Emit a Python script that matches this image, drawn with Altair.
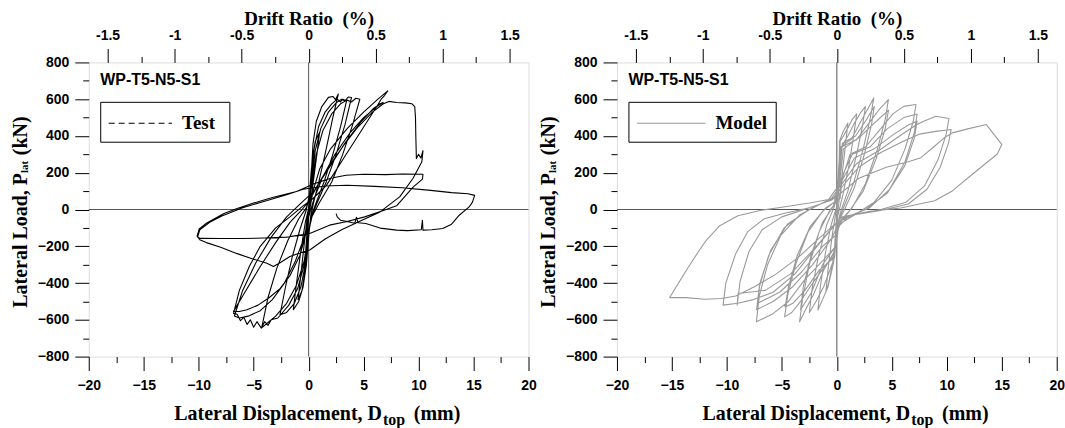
import altair as alt
import pandas as pd

# ---------------- data ----------------
test_disp = [0,
             0.1, 0.25, 0.45, 0.3, 0.1, 0,
             -0.1, -0.25, -0.35, -0.2, -0.05, 0.05,
             0.2, 0.35, 0.6, 1.0, 0.75, 0.4, 0.15, 0,
             -0.15, -0.3, -0.6, -0.96, -0.7, -0.35, -0.1, 0.1,
             0.25, 0.4, 0.7, 1.2, 1.8, 2.2, 2.45, 2.7, 2.2, 1.6, 1.0, 0.5, 0.2,
             0, -0.2, -0.5, -0.9, -1.39, -1.1, -0.7, -0.3, 0.1,
             0.3, 0.5, 0.9, 1.5, 2.1, 2.6, 2.9, 3.1, 3.45, 2.9, 2.2, 1.4, 0.7, 0.2,
             0, -0.25, -0.7, -1.3, -2.0, -2.6, -2.1, -1.5, -0.8, -0.2,
             0.3, 0.6, 1.1, 1.8, 2.5, 3.0, 3.3, 3.6, 3.9, 3.3, 2.5, 1.6, 0.8, 0.2,
             -0.1, -0.4, -1.0, -1.8, -2.8, -3.4, -3.7, -4.0, -4.26, -3.7, -2.9, -1.9, -0.9, -0.2,
             0.3, 0.7, 1.3, 2.1, 2.9, 3.5, 3.9, 4.3, 4.66, 4.0, 3.1, 2.1, 1.0, 0.3,
             0, -0.4, -1.1, -2.0, -3.0, -3.8, -4.3, -4.7, -5.0, -5.3, -5.6, -5.9, -6.2, -6.5, -6.83, -6.3, -5.4, -4.4, -3.0, -1.7, -0.5,
             0.4, 1.6, 3.2, 4.7, 6.2, 6.6, 6.9, 7.2, 6.3, 5.0, 3.5, 2.0, 1.0, 0.4, 0.1,
             -0.2, -0.8, -1.7, -2.6, -3.6, -4.6, -5.6, -6.3, -6.83, -6.0, -4.4, -3.0, -1.7, -0.6, 0.1,
             0.8, 2.0, 3.4, 4.8, 5.9, 6.5, 6.78, 6.2, 5.0, 3.8, 2.4, 1.3, 0.5, 0,
             -0.4, -1.2, -2.2, -3.3, -4.4, -5.5, -6.3, -6.75, -6.0, -4.8, -3.4, -2.0, -0.6, 0.5,
             1.8, 3.2, 4.5, 5.8, 6.8, 7.3, 8.0, 8.8, 9.4, 9.65, 9.72, 9.75, 9.8, 10.0, 10.2, 10.4, 10.3,
             9.5, 8.3, 6.5, 4.8, 3.0, 1.5, 0.1, -1.0, -1.7, -2.6, -3.2, -3.8, -5.0, -6.5, -8.0, -9.3, -9.86, -10.15,
             -9.95, -9.3, -8.4, -7.7, -6.5, -5.0, -3.3, -1.1, 0.5, 2.0, 3.4, 5.0, 7.0, 8.5, 10.4, 10.35,
             9.5, 8.0, 6.8, 5.1, 3.5, 1.9, 0.1, -2.0, -4.0, -6.0, -8.0, -9.86, -10.1,
             -9.9, -9.0, -7.9, -6.0, -4.0, -2.0, -0.5, 1.5, 3.5, 6.0, 8.5, 11.1, 13.0, 14.5, 15.1, 14.9, 14.6, 13.7, 13.0, 12.2, 11.2, 10.4, 10.35, 10.25, 9.0, 8.0, 6.5, 5.2, 4.5, 4.35, 4.2, 3.5, 2.9, 2.6, 2.5]
test_load = [0,
             100, 220, 300, 180, 40, -20,
             -120, -230, -300, -170, -40, 20,
             150, 280, 370, 420, 300, 140, 20, -40,
             -180, -320, -440, -491, -350, -160, -30, 40,
             200, 360, 480, 560, 610, 615, 598, 628, 500, 330, 170, 50, -30,
             -150, -300, -420, -500, -545, -400, -220, -70, 30,
             180, 330, 450, 530, 575, 600, 585, 600, 591, 450, 300, 150, 40, -40,
             -130, -280, -420, -510, -560, -572, -420, -260, -110, 0,
             150, 320, 440, 530, 580, 600, 590, 612, 609, 460, 300, 150, 40, -50,
             -150, -300, -430, -520, -590, -600, -630, -610, -640, -480, -320, -170, -50, 10,
             130, 300, 430, 520, 575, 595, 585, 605, 600, 460, 300, 150, 40, -40,
             -120, -280, -410, -510, -580, -620, -645, -610, -640, -600, -625, -585, -605, -570, -565, -440, -310, -200, -100, -40, 20,
             60, 130, 280, 420, 560, 600, 620, 645, 600, 530, 440, 330, 220, 100, 0,
             -120, -250, -360, -430, -480, -520, -545, -555, -554, -470, -310, -180, -70, 0, 50,
             130, 240, 370, 480, 550, 575, 582, 560, 500, 420, 300, 180, 60, -40,
             -150, -280, -400, -490, -550, -580, -590, -579, -440, -290, -150, -40, 40, 100,
             230, 350, 450, 530, 575, 588, 582, 580, 575, 560, 500, 400, 277, 300, 280, 320, 260,
             170, 70, -13, -60, -110, -160, -220, -240, -256, -290, -310, -292, -270, -240, -205, -180, -166, -145,
             -105, -75, -45, -22, 5, 35, 65, 98, 140, 170, 186, 192, 190, 193, 192, 165,
             122, 20, -5, -40, -65, -85, -130, -150, -155, -158, -158, -157, -150,
             -110, -70, -35, 10, 45, 80, 110, 128, 132, 126, 118, 104, 92, 86, 77, 40, 14, -31, -80, -103, -110, -112, -58, -110, -115, -112, -101, -76, -72, -42, -75, -65, -58, -40, -22]

model_disp = [0, 0.1, 0.2, 0.25, 0.2, 0.08, -0.05, -0.15, -0.28, -0.18, -0.05, 0.05,
              0.2, 0.24, 0.55, 1.0, 0.75, 0.4, 0.15, 0, -0.1, -0.4, -0.75, -1.0, -0.75, -0.4, -0.1, 0.1,
              0.2, 0.3, 0.6, 1.0, 1.4, 1.81, 1.55, 1.1, 0.55, 0.1, -0.05, -0.3, -0.8, -1.3, -1.72, -1.5, -1.05, -0.5, 0,
              0.15, 0.3, 1.0, 1.6, 2.2, 2.6, 2.35, 1.8, 1.0, 0.3, 0, -0.2, -1.2, -1.9, -2.5, -2.25, -1.7, -0.9, -0.2,
              0.1, 0.3, 1.3, 2.1, 2.8, 3.36, 3.05, 2.4, 1.5, 0.6, 0.05, -0.15, -1.2, -2.1, -2.8, -3.39, -3.1, -2.5, -1.6, -0.6, 0.1,
              0.25, 0.5, 1.7, 2.6, 3.4, 3.15, 2.5, 1.6, 0.7, 0.1, -0.1, -1.3, -2.3, -3.3, -3.05, -2.3, -1.3, -0.3,
              0.2, 0.4, 1.8, 2.8, 3.8, 4.69, 4.4, 3.7, 2.6, 1.4, 0.2, 0, -0.25, -1.0, -2.2, -3.3, -4.1, -4.75, -4.45, -3.7, -2.6, -1.3, 0,
              0.3, 0.6, 2.2, 3.4, 4.7, 4.4, 3.6, 2.4, 1.0, 0.1, -0.1, -0.4, -1.6, -2.9, -4.0, -4.7, -4.4, -3.6, -2.4, -1.0, 0.3,
              0.5, 1.2, 2.6, 4.0, 5.1, 6.08, 7.2, 6.95, 6.2, 5.0, 3.4, 1.6, 0.2, -0.1, -1.3, -2.9, -4.4, -5.9, -7.32, -7.05, -6.3, -5.1, -3.4, -1.5, 0,
              0.4, 1.4, 3.0, 4.6, 6.1, 7.3, 7.05, 6.2, 4.8, 3.0, 1.0, -0.1, -0.5, -2.2, -4.0, -5.8, -7.3, -7.05, -6.2, -4.8, -2.8, -0.8,
              0.5, 1.6, 3.4, 5.2, 6.5, 7.3, 7.05, 6.2, 4.6, 2.6, 0.5, -0.1, -1.3, -3.2, -5.2, -7.2, -7.0, -6.0, -4.5, -2.5, -0.5,
              0.6, 1.8, 3.8, 5.7, 7.2, 7.9, 9.0, 10.2, 9.95, 9.2, 8.0, 6.3, 4.0, 1.5, 0, -1.8, -3.8, -5.8, -7.6, -9.0, -10.35, -10.1, -9.2, -8.1, -6.6, -4.75, -2.5, -0.5,
              0.7, 2.0, 4.0, 6.0, 7.5, 9.0, 10.4, 10.15, 9.4, 8.2, 6.5, 4.0, 1.5, 0, -2.0, -4.2, -6.5, -8.98, -9.07, -8.8, -8.0, -6.8, -5.0, -2.5, -0.5,
              0.8, 2.0, 4.5, 6.5, 7.65, 8.8, 9.77, 10.5, 12.0, 13.6, 15.0, 14.6, 12.5, 10.5, 8.9, 5.8, 3.0, 0.5, 0, -1.5, -3.5, -5.5, -7.5, -9.2, -10.5, -12.0, -13.7, -15.2, -14.4, -13.5, -12.6, -11.9, -10.65, -9.0, -7.0, -5.0, -2.5, -0.5, 0.1]
model_load = [0, 120, 250, 330, 230, 80, -60, -180, -280, -180, -60, 40,
              170, 372, 420, 470, 330, 150, 20, -60, -150, -300, -400, -450, -300, -130, -20, 50,
              200, 372, 400, 444, 490, 520, 410, 240, 80, -30, -150, -290, -420, -490, -547, -420, -240, -80, 20,
              160, 330, 400, 470, 530, 560, 460, 300, 100, -20, -120, -260, -420, -500, -560, -430, -260, -80, 20,
              170, 340, 380, 470, 545, 606, 500, 330, 140, 10, -80, -220, -330, -460, -540, -611, -480, -300, -120, 0, 50,
              180, 360, 400, 480, 560, 460, 300, 120, 0, -70, -200, -300, -450, -545, -420, -240, -70, 20,
              160, 340, 380, 460, 540, 598, 490, 330, 140, 10, -70, -160, -250, -300, -400, -500, -560, -584, -460, -290, -120, -10, 50,
              170, 330, 400, 470, 540, 440, 280, 100, -20, -80, -170, -270, -330, -440, -510, -530, -420, -250, -90, 10, 60,
              170, 300, 340, 440, 520, 561, 571, 480, 330, 160, 40, -30, -80, -200, -280, -380, -500, -570, -611, -470, -300, -140, -30, 30, 70,
              170, 300, 340, 440, 500, 519, 420, 260, 110, 10, -40, -110, -160, -300, -420, -500, -545, -420, -250, -100, -10, 50,
              160, 280, 330, 410, 460, 480, 390, 240, 90, 0, -50, -140, -200, -340, -450, -510, -400, -220, -80, 0, 60,
              150, 250, 320, 400, 460, 480, 507, 495, 410, 270, 130, 40, 0, -30, -70, -200, -350, -450, -490, -510, -520, -400, -240, -120, -50, -20, 10, 50,
              140, 230, 310, 370, 410, 425, 435, 360, 230, 110, 30, -5, -30, -70, -210, -350, -440, -457, -520, -390, -230, -110, -40, 10, 50,
              110, 170, 230, 260, 282, 340, 390, 417, 440, 462, 354, 302, 200, 101, 48, 8, -10, -40, -70, -150, -260, -350, -420, -470, -484, -488, -479, -479, -400, -313, -230, -169, -88, -34, -5, 12, 35, 57, 80]

disp_ticks = [-20, -17.5, -15, -12.5, -10, -7.5, -5, -2.5, 0, 2.5, 5, 7.5, 10, 12.5, 15, 17.5, 20]
load_ticks = [-800, -700, -600, -500, -400, -300, -200, -100, 0, 100, 200, 300, 400, 500, 600, 700, 800]
drift_ticks = [-1.5, -1.25, -1, -0.75, -0.5, -0.25, 0, 0.25, 0.5, 0.75, 1, 1.25, 1.5]
drift_limits = [-1.6407, 1.6407]   # +/-20 mm on a 1219 mm wall
disp_limits = [-20, 20]
load_limits = [-800, 800]

specimen = "WP-T5-N5-S1"
NB = "\u00a0"

W, H = 441, 295
SANS = "Liberation Sans"
SERIF = "Liberation Serif"


def axis_common(orient, values, major_test, pad):
    return alt.Axis(
        orient=orient, values=values, grid=False, domain=False, title="",
        tickColor="black", tickWidth=1,
        tickSize={"condition": {"test": major_test, "value": 14}, "value": 6},
        labelExpr=f"({major_test}) ? datum.label : ''",
        labelFont=SANS, labelFontWeight="bold", labelFontSize=14, labelColor="black",
        labelPadding=pad, labelOverlap=False, labelFlush=False,
    )


def panel(disp, load, color, legend_text, legend_dash, box_right, line_right):
    df = pd.DataFrame({"d": disp, "p": load, "i": list(range(len(disp)))})
    x_axis = axis_common("bottom", disp_ticks, "datum.value % 5 === 0", 8)
    y_axis = axis_common("left", load_ticks, "datum.value % 200 === 0", 6)
    xs = alt.Scale(domain=disp_limits, nice=False, zero=False)
    ys = alt.Scale(domain=load_limits, nice=False, zero=False)

    curve = alt.Chart(df).mark_line(color=color, strokeWidth=1.1, strokeJoin="round").encode(
        x=alt.X("d:Q", scale=xs, axis=x_axis),
        y=alt.Y("p:Q", scale=ys, axis=y_axis),
        order="i:Q",
    )
    zero = pd.DataFrame({"d": [0], "p": [0]})
    vline = alt.Chart(zero).mark_rule(color="#555555", strokeWidth=1).encode(
        x=alt.X("d:Q", scale=xs, axis=x_axis))
    hline = alt.Chart(zero).mark_rule(color="#555555", strokeWidth=1).encode(
        y=alt.Y("p:Q", scale=ys, axis=y_axis))

    one = pd.DataFrame({"k": [0]})
    label = alt.Chart(one).mark_text(
        text=specimen, font=SANS, fontWeight="bold", fontSize=16, align="left",
        baseline="middle", color="black").encode(x=alt.value(11.5), y=alt.value(18))
    box = alt.Chart(one).mark_rect(fill="white", stroke="black", strokeWidth=1).encode(
        x=alt.value(12), x2=alt.value(box_right), y=alt.value(40), y2=alt.value(80))
    rule_kw = dict(color=color, strokeWidth=1.1)
    if legend_dash:
        rule_kw["strokeDash"] = [6, 4]
    sample = alt.Chart(one).mark_rule(**rule_kw).encode(
        x=alt.value(20), x2=alt.value(line_right), y=alt.value(61))
    ltext = alt.Chart(one).mark_text(
        text=legend_text, font=SERIF, fontWeight="bold", fontSize=19, align="left",
        baseline="middle", color="black").encode(x=alt.value(line_right + 10), y=alt.value(61))

    # x title with subscript
    tkw = dict(font=SERIF, fontWeight="bold", color="black", baseline="alphabetic")
    xt1 = alt.Chart(one).mark_text(text="Lateral Displacement, D", fontSize=20, align="right", **tkw).encode(
        x=alt.value(294), y=alt.value(H + 64))
    xt2 = alt.Chart(one).mark_text(text="top", fontSize=16, align="left", **tkw).encode(
        x=alt.value(295), y=alt.value(H + 69))
    xt3 = alt.Chart(one).mark_text(text="(mm)", fontSize=20, align="left", **tkw).encode(
        x=alt.value(326), y=alt.value(H + 64))
    # y title with subscript (rotated)
    rkw = dict(font=SERIF, fontWeight="bold", color="black", angle=270, baseline="middle")
    yt1 = alt.Chart(one).mark_text(text="Lateral Load, P", fontSize=20, align="right", **rkw).encode(
        x=alt.value(-68), y=alt.value(111))
    yt2 = alt.Chart(one).mark_text(text="lat", fontSize=11, align="left", **rkw).encode(
        x=alt.value(-64), y=alt.value(111))
    yt3 = alt.Chart(one).mark_text(text="(kN)", fontSize=20, align="left", **rkw).encode(
        x=alt.value(-68), y=alt.value(93))

    inner = alt.layer(vline, hline, curve, box, sample, ltext, label, xt1, xt2, xt3, yt1, yt2, yt3)

    ddf = pd.DataFrame({"drift": drift_limits})
    top = alt.Chart(ddf).mark_point(opacity=0).encode(
        x=alt.X("drift:Q", scale=alt.Scale(domain=drift_limits, nice=False, zero=False),
                axis=alt.Axis(
                    orient="top", values=drift_ticks, grid=False, domain=False,
                    title=f"Drift Ratio{NB}{NB}(%)", titleFont=SERIF, titleFontWeight="bold",
                    titleFontSize=19, titleColor="black", titlePadding=0,
                    tickColor="black", tickWidth=1,
                    tickSize={"condition": {"test": "datum.value % 0.5 === 0", "value": 14}, "value": 6},
                    labelExpr="(datum.value % 0.5 === 0) ? ('' + datum.value) : ''",
                    labelFont=SANS, labelFontWeight="bold", labelFontSize=14, labelColor="black",
                    labelPadding=6, labelOverlap=False, labelFlush=False)),
    )
    return alt.layer(inner, top).resolve_scale(x="independent").properties(width=W, height=H)


left = panel(test_disp, test_load, "black", "Test", True, 141.5, 83.5)
right = panel(model_disp, model_load, "#9a9a9a", "Model", False, 159.7, 88.7)

chart = alt.hconcat(left, right, spacing=88.7, bounds="flush").properties(
    padding={"left": 10, "top": 8, "right": 0, "bottom": 0}
).configure_view(stroke="black", strokeWidth=1).configure(background="white")

chart.save("out.html", embed_options={"renderer": "svg", "actions": False})
